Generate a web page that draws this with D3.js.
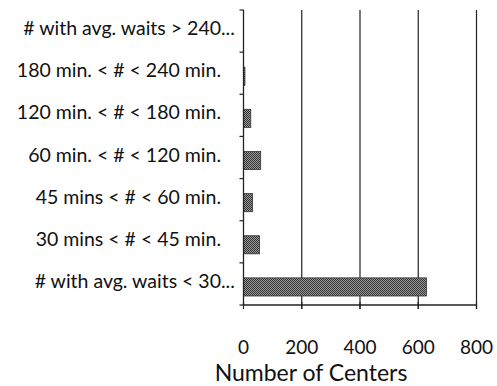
<!DOCTYPE html>
<html>
<head>
<meta charset="utf-8">
<script src="https://cdn.jsdelivr.net/npm/d3@7"></script>
<style>
  body { margin: 0; background: #fff; }
  text { font-family: Lato, "Open Sans", sans-serif; fill: #111; }
</style>
</head>
<body>
<div id="chart"></div>
<script>
// categories listed top row first
var categories = [
    "# with avg. waits > 240...",
    "180 min. < # < 240 min.",
    "120 min. < # < 180 min.",
    "60 min. < # < 120 min.",
    "45 mins < # < 60 min.",
    "30 mins < # < 45 min.",
    "# with avg. waits < 30..."
];
var centers = [0, 5, 25, 59, 31, 55, 628];
var xTicks = [0, 200, 400, 600, 800];

var width = 497, height = 386;
var plotLeft = 243.5, plotRight = 476.5, plotTop = 10, plotBottom = 305;

var svg = d3.select("#chart").append("svg")
    .attr("width", width)
    .attr("height", height);

// dithered grey like the printed bars
var pat = svg.append("defs").append("pattern")
    .attr("id", "dots")
    .attr("width", 2).attr("height", 2)
    .attr("patternUnits", "userSpaceOnUse");
pat.append("rect").attr("width", 2).attr("height", 2).attr("fill", "#9a9a9a");
pat.append("rect").attr("width", 1).attr("height", 1).attr("fill", "#333");
pat.append("rect").attr("x", 1).attr("y", 1).attr("width", 1).attr("height", 1).attr("fill", "#333");

var x = d3.scaleLinear().domain([0, 800]).range([plotLeft, plotRight]);
var y = d3.scaleBand().domain(categories).range([plotTop, plotBottom]).paddingInner(0.57).paddingOuter(0.285);
var yb = d3.scaleBand().domain(categories).range([plotTop, plotBottom]);

// vertical gridlines
svg.append("g")
    .selectAll("line")
    .data(xTicks.slice(1))
    .enter()
    .append("line")
    .attr("x1", function(d) { return x(d); })
    .attr("x2", function(d) { return x(d); })
    .attr("y1", plotTop)
    .attr("y2", plotBottom + 4)
    .attr("stroke", "#222")
    .attr("stroke-width", 1.2);

// bars
svg.append("g")
    .selectAll("rect")
    .data(centers)
    .enter()
    .append("rect")
    .attr("x", x(0))
    .attr("y", function(d, i) { return y(categories[i]) + 3; })
    .attr("width", function(d) { return x(d) - x(0); })
    .attr("height", y.bandwidth())
    .attr("fill", "url(#dots)")
    .attr("stroke", "#333")
    .attr("stroke-width", 0.8);

// left axis line with ticks between categories
svg.append("line")
    .attr("x1", x(0)).attr("x2", x(0))
    .attr("y1", plotTop).attr("y2", plotBottom)
    .attr("stroke", "#222").attr("stroke-width", 1.3);

var tickYs = categories.map(function(c) { return yb(c); }).concat([plotBottom]);
svg.append("g")
    .selectAll("line")
    .data(tickYs)
    .enter()
    .append("line")
    .attr("x1", x(0) - 4).attr("x2", x(0))
    .attr("y1", function(d) { return d; })
    .attr("y2", function(d) { return d; })
    .attr("stroke", "#222").attr("stroke-width", 1.2);

// bottom axis
svg.append("line")
    .attr("x1", x(0)).attr("x2", x(800))
    .attr("y1", plotBottom).attr("y2", plotBottom)
    .attr("stroke", "#222").attr("stroke-width", 1.3);

svg.append("g")
    .selectAll("line")
    .data(xTicks)
    .enter()
    .append("line")
    .attr("x1", function(d) { return x(d); })
    .attr("x2", function(d) { return x(d); })
    .attr("y1", plotBottom - 3).attr("y2", plotBottom + 4)
    .attr("stroke", "#222").attr("stroke-width", 1.2);

svg.append("g")
    .selectAll("text")
    .data(xTicks)
    .enter()
    .append("text")
    .attr("x", function(d) { return x(d); })
    .attr("y", 354)
    .attr("text-anchor", "middle")
    .style("font-size", "19px")
    .text(function(d) { return d; });

svg.append("text")
    .attr("x", 311)
    .attr("y", 381)
    .attr("text-anchor", "middle")
    .style("font-size", "23px")
    .text("Number of Centers");

// category labels: the main part ends at labelRight, a trailing "..." hangs past it
var labelRight = 221;
var labels = svg.append("g")
    .selectAll("text")
    .data(categories)
    .enter()
    .append("text")
    .attr("y", function(d) { return yb(d) + yb.bandwidth() / 2 + 4; })
    .style("font-size", "19.5px");

labels.append("tspan")
    .attr("class", "main")
    .text(function(d) { return d.replace(/\.\.\.$/, ""); });
labels.append("tspan")
    .text(function(d) { return /\.\.\.$/.test(d) ? "..." : ""; });

labels.attr("x", function() {
    return labelRight - d3.select(this).select("tspan.main").node().getComputedTextLength();
});
</script>
</body>
</html>
